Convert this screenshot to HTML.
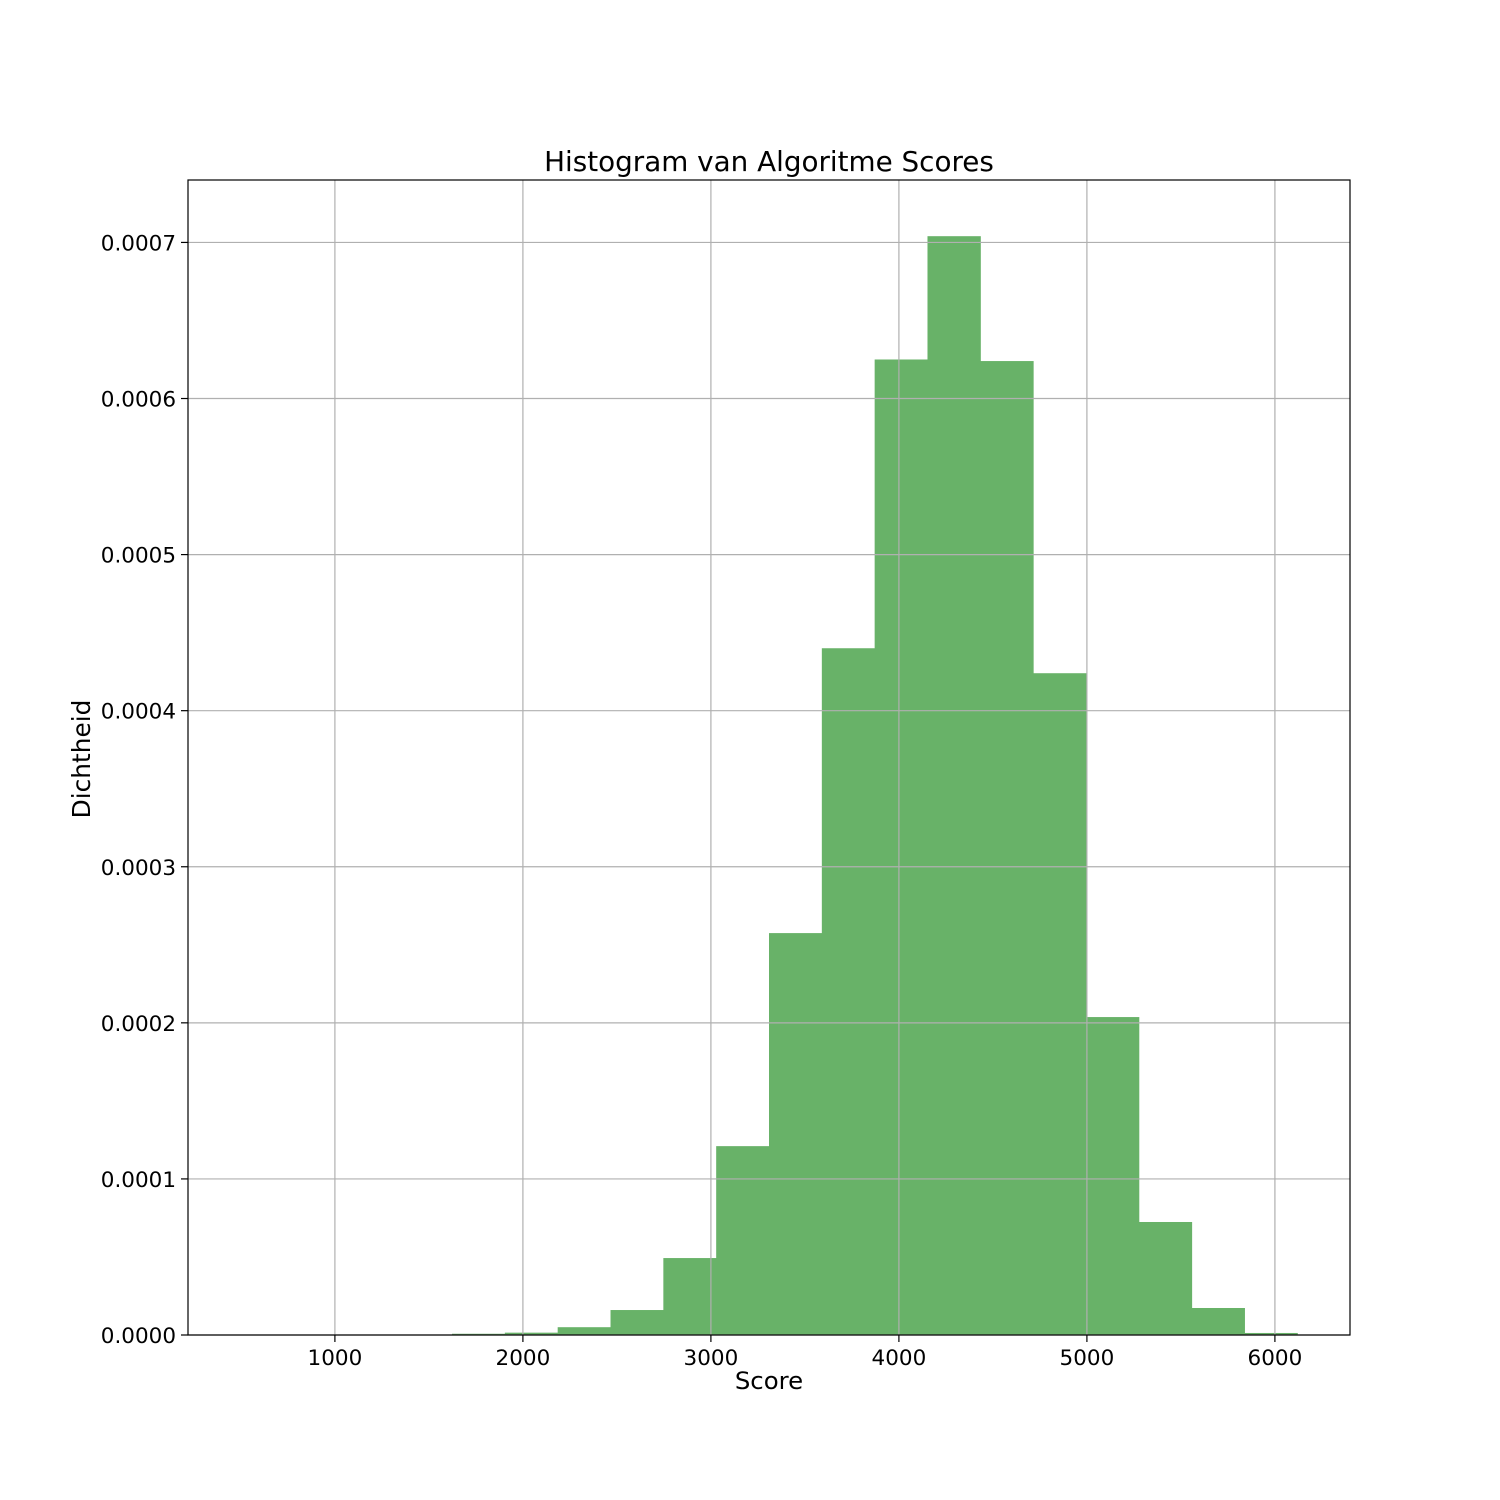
<!DOCTYPE html>
<html><head><meta charset="utf-8"><style>
body{margin:0;background:#fff;}
svg{display:block;font-family:"DejaVu Sans","Liberation Sans",sans-serif;}
</style></head><body>
<svg id="chart" width="1500" height="1500" xmlns="http://www.w3.org/2000/svg">
<rect width="1500" height="1500" fill="#fff"/>
<text x="769" y="171" font-size="27.8" text-anchor="middle">Histogram van Algoritme Scores</text>
<text x="769" y="1389" font-size="24.4" text-anchor="middle">Score</text>
<text transform="translate(90,759) rotate(-90)" font-size="24.8" text-anchor="middle">Dichtheid</text>
<g id="bars"></g><g id="grid"></g><g id="ticks"></g>
<rect x="188" y="180" width="1162" height="1155" fill="none" stroke="#000" stroke-width="1.2"/>
</svg>
<script>
const binStart = 499;
const binWidth = 281;
const densities = [0,0,0,0,0.0000008,0.0000015,0.000005,0.000016,0.0000493,0.000121,0.0002575,0.00044,0.000625,0.000704,0.000624,0.000424,0.0002037,0.0000724,0.0000173,0.0000013];
const xTicks = [1000,2000,3000,4000,5000,6000];
const yTicks = [0,0.0001,0.0002,0.0003,0.0004,0.0005,0.0006,0.0007];
const yTickLabels = ["0.0000","0.0001","0.0002","0.0003","0.0004","0.0005","0.0006","0.0007"];
const NS="http://www.w3.org/2000/svg";
const L=188,R=1350,T=180,B=1335;
const xmin=218.6,xmax=6399.4,ymax=0.000740;
const xs=v=>L+(v-xmin)/(xmax-xmin)*(R-L);
const ys=v=>B-v/ymax*(B-T);
function mk(tag,a,p){const e=document.createElementNS(NS,tag);for(const k in a)e.setAttribute(k,a[k]);p.appendChild(e);return e;}
const grid=document.getElementById('grid'),bars=document.getElementById('bars'),ticks=document.getElementById('ticks');
xTicks.forEach(v=>{const x=xs(v);
 const g=mk('line',{x1:x,x2:x,y1:T,y2:B,stroke:'#b0b0b0','stroke-width':1.2},grid);
 
 
 mk('line',{x1:x,x2:x,y1:B,y2:B+7,stroke:'#000','stroke-width':1.2},ticks);
 const t=mk('text',{x:x,y:B+30,'font-size':21.5,'text-anchor':'middle'},ticks);t.textContent=v;
 
 
});
yTicks.forEach((v,i)=>{const y=ys(v);
 const g=mk('line',{x1:L,x2:R,y1:y,y2:y,stroke:'#b0b0b0','stroke-width':1.2},grid);
 
 
 mk('line',{x1:L-7,x2:L,y1:y,y2:y,stroke:'#000','stroke-width':1.2},ticks);
 const t=mk('text',{x:L-12,y:y+8,'font-size':21.5,'text-anchor':'end'},ticks);t.textContent=yTickLabels[i];
 
 
});
densities.forEach((d,i)=>{const x0=xs(binStart+i*binWidth),x1=xs(binStart+(i+1)*binWidth);
 const r=mk('rect',{x:x0,y:ys(d),width:x1-x0+0.5,height:B-ys(d),fill:'#68b268'},bars);
 
 
});
</script>
</body></html>
